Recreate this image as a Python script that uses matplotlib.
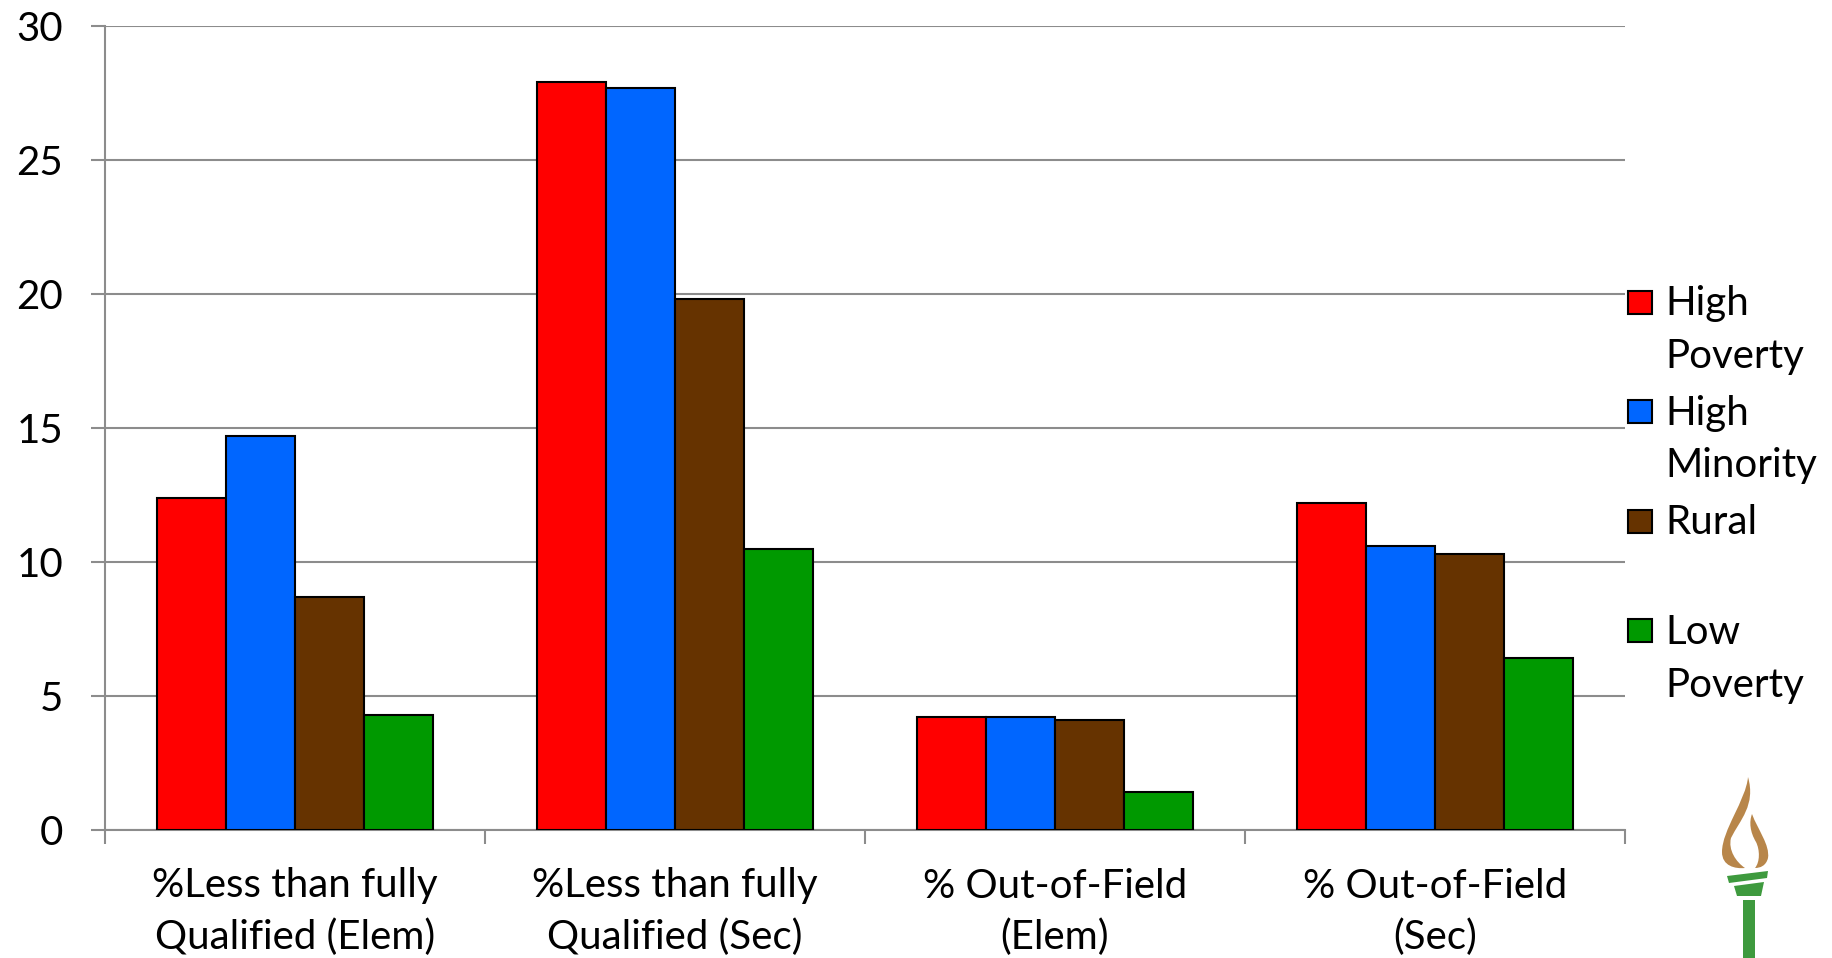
import matplotlib.pyplot as plt
import numpy as np
from matplotlib.patches import Rectangle, Polygon, PathPatch
from matplotlib.path import Path

categories = ["%Less than fully\nQualified (Elem)", "%Less than fully\nQualified (Sec)",
              "% Out-of-Field\n(Elem)", "% Out-of-Field\n(Sec)"]
series = ["High\nPoverty", "High\nMinority", "Rural", "Low\nPoverty"]
high_poverty = [12.4, 27.9, 4.2, 12.2]
high_minority = [14.7, 27.7, 4.2, 10.6]
rural = [8.7, 19.8, 4.1, 10.3]
low_poverty = [4.3, 10.5, 1.4, 6.4]
colors = ["#FF0000", "#0066FF", "#663300", "#009900"]
yticks = [0, 5, 10, 15, 20, 25, 30]

plt.rcParams['font.family'] = ['Lato', 'DejaVu Sans']
W, H = 1833, 958
fig = plt.figure(figsize=(W / 100, H / 100), dpi=100)

def px(x, y):
    return (x / W, 1 - y / H)

ax = fig.add_axes([105 / W, (H - 830) / H, 1520 / W, 804 / H])

x = np.arange(len(categories))
w = 1 / 5.5
for i, vals in enumerate([high_poverty, high_minority, rural, low_poverty]):
    ax.bar(x + (i - 1.5) * w, vals, w, color=colors[i], edgecolor='black',
           linewidth=1.5, zorder=3)

ax.set_xlim(-0.5, len(categories) - 0.5)
ax.set_ylim(0, 30)
ax.set_yticks(yticks)
ax.set_yticklabels([str(t) for t in yticks], fontsize=29)
# category boundaries get the tick marks, centres get the labels
ax.set_xticks(np.arange(len(categories) + 1) - 0.5)
ax.set_xticklabels([])
ax.set_xticks(x, minor=True)
ax.set_xticklabels(categories, minor=True, fontsize=29, linespacing=1.45)
ax.tick_params(axis='x', which='major', length=10, width=1.5, color='#8C8C8C', direction='out')
ax.tick_params(axis='x', which='minor', length=0, pad=27)
ax.tick_params(axis='y', length=10, width=1.5, color='#8C8C8C', pad=20)
ax.yaxis.grid(True, color='#8C8C8C', linewidth=1.5, zorder=0)
ax.set_axisbelow(True)
for s in ['top', 'right']:
    ax.spines[s].set_visible(False)
for s in ['left', 'bottom']:
    ax.spines[s].set_color('#8C8C8C')
    ax.spines[s].set_linewidth(1.5)

# legend, drawn by hand so the swatch sits on the first text line
for i, name in enumerate(series):
    cy = 302 + i * 109.5
    fig.patches.append(Rectangle(px(1628, cy + 11.5), 24 / W, 23 / H, transform=fig.transFigure,
                                 facecolor=colors[i], edgecolor='black', linewidth=1.5))
    for j, line in enumerate(name.split('\n')):
        fig.text(1665 / W, 1 - (cy + 13 + j * 53) / H, line, fontsize=29,
                 va='baseline', ha='left')

# torch logo
flame_c = "#B8864A"
torch_c = "#3E9A3E"
codes = [Path.MOVETO] + [Path.CURVE4] * 12
outer = Path([px(1748, 777), px(1746, 800), px(1722, 830), px(1722, 852),
              px(1722, 866), px(1735, 869), px(1745, 868),
              px(1736, 862), px(1728, 850), px(1731, 838),
              px(1740, 820), px(1756, 805), px(1748, 777)], codes)
inner = Path([px(1752, 814), px(1758, 830), px(1770, 845), px(1768, 858),
              px(1766, 866), px(1760, 868), px(1755, 868),
              px(1760, 862), px(1760, 850), px(1756, 842),
              px(1750, 832), px(1749, 822), px(1752, 814)], codes)
for p in [outer, inner]:
    fig.patches.append(PathPatch(p, transform=fig.transFigure, facecolor=flame_c, edgecolor='none'))
fig.patches.append(Polygon([px(1727, 876), px(1768, 871), px(1767, 878), px(1729, 883)],
                           transform=fig.transFigure, facecolor=torch_c, edgecolor='none'))
fig.patches.append(Polygon([px(1734, 886), px(1764, 882), px(1761, 896), px(1737, 896)],
                           transform=fig.transFigure, facecolor=torch_c, edgecolor='none'))
fig.patches.append(Rectangle(px(1743, 958), 12 / W, 58 / H, transform=fig.transFigure,
                             facecolor=torch_c, edgecolor='none'))

fig.savefig("out.png", dpi=100)
